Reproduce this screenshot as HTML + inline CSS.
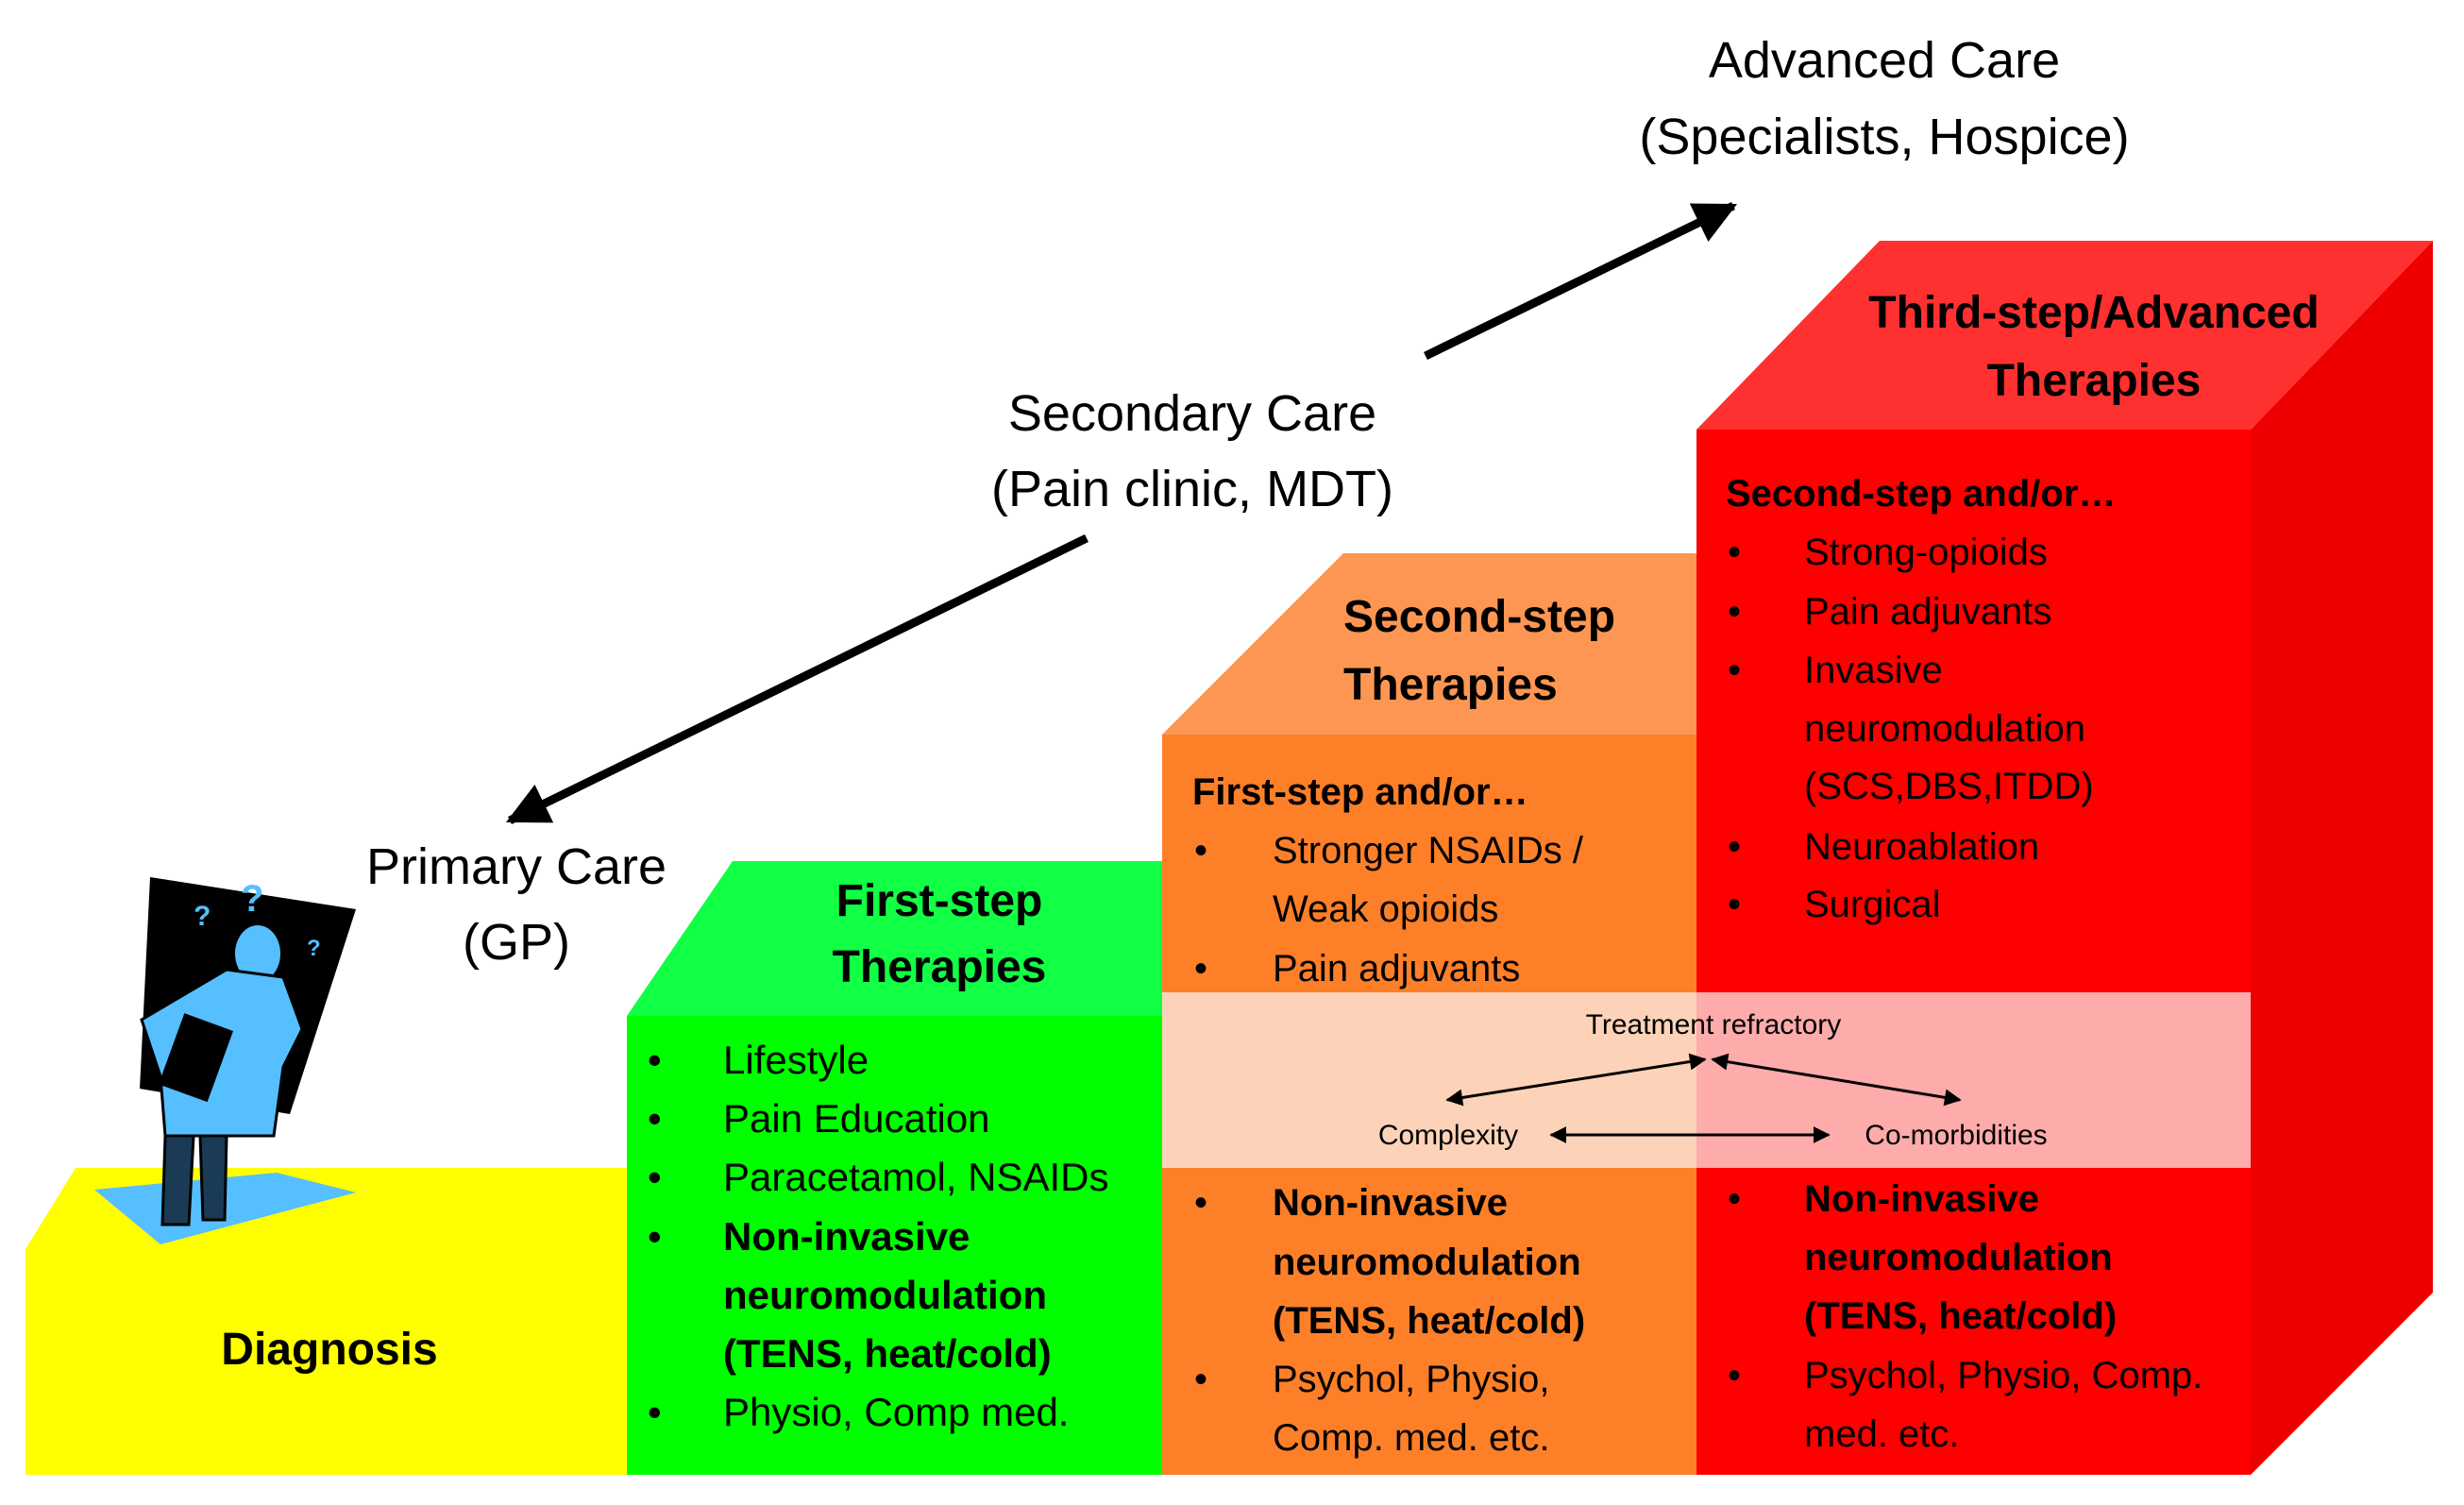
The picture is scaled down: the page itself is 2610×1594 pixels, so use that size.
<!DOCTYPE html>
<html><head><meta charset="utf-8"><style>
html,body{margin:0;padding:0;background:#fff}
svg{display:block}
text{font-family:"Liberation Sans",sans-serif;fill:#000}
.b{font-weight:bold}
</style></head><body>
<svg width="2610" height="1594" viewBox="0 0 2610 1594" xmlns="http://www.w3.org/2000/svg">
<defs>
<marker id="ah" viewBox="0 0 10 10" refX="9" refY="5" markerWidth="5" markerHeight="5" orient="auto-start-reverse"><path d="M0,0 L10,5 L0,10 z" fill="#000"/></marker>
<marker id="sh" viewBox="0 0 10 10" refX="9" refY="5" markerWidth="6" markerHeight="6" orient="auto-start-reverse"><path d="M0,0 L10,5 L0,10 z" fill="#000"/></marker>
</defs>
<!-- yellow -->
<polygon points="80,1237 666,1237 666,1562 27,1562 27,1323" fill="#ffff00"/>
<!-- green -->
<polygon points="664,1076 776,912 1231,912 1231,1076" fill="#11ff44"/>
<rect x="664" y="1076" width="567" height="486" fill="#00ff00"/>
<!-- orange -->
<polygon points="1231,778 1423,586 1797,586 1797,778" fill="#fd9652"/>
<rect x="1231" y="778" width="566" height="784" fill="#fd7f28"/>
<!-- red -->
<polygon points="1797,455 1991,255 2577,255 2384,455" fill="#ff3030"/>
<rect x="1797" y="455" width="587" height="1107" fill="#ff0000"/>
<polygon points="2384,455 2577,255 2577,1369 2384,1562" fill="#ee0000"/>
<!-- band -->
<rect x="1231" y="1051" width="566" height="186" fill="#fcd3b8"/>
<rect x="1797" y="1051" width="587" height="186" fill="#fdabab"/>

<!-- doctor -->
<polygon points="159,929 377,963 307,1180 148,1153" fill="#000"/>
<polygon points="100,1260 293,1242 377,1263 170,1318" fill="#55bfff"/>
<ellipse cx="273" cy="1010" rx="24" ry="30" fill="#55bfff"/>
<polygon points="150,1080 240,1027 300,1035 320,1090 300,1130 290,1203 175,1203 170,1140" fill="#55bfff" stroke="#000" stroke-width="3"/>
<rect x="180" y="1080" width="55" height="80" fill="#000" transform="rotate(20 207 1120)"/>
<polygon points="175,1203 205,1203 200,1297 172,1297" fill="#1a3a55" stroke="#000" stroke-width="3"/>
<polygon points="212,1203 240,1203 238,1292 215,1292" fill="#1a3a55" stroke="#000" stroke-width="3"/>
<text x="205" y="980" font-size="30" style="fill:#55bfff" class="b">?</text>
<text x="255" y="965" font-size="40" style="fill:#55bfff" class="b">?</text>
<text x="325" y="1012" font-size="24" style="fill:#55bfff" class="b">?</text>

<!-- big arrows -->
<line x1="1151" y1="570" x2="540" y2="869" stroke="#000" stroke-width="9" marker-end="url(#ah)"/>
<line x1="1510" y1="377" x2="1836" y2="218" stroke="#000" stroke-width="9" marker-end="url(#ah)"/>

<!-- care labels -->
<g font-size="54" text-anchor="middle">
<text x="1996" y="82">Advanced Care</text>
<text x="1996" y="163">(Specialists, Hospice)</text>
<text x="1263" y="456">Secondary Care</text>
<text x="1263" y="536">(Pain clinic, MDT)</text>
<text x="547" y="936">Primary Care</text>
<text x="547" y="1016">(GP)</text>
</g>

<!-- headers -->
<g class="b" font-size="48" text-anchor="middle">
<text x="995" y="970">First-step</text>
<text x="995" y="1040">Therapies</text>
<text x="2218" y="347">Third-step/Advanced</text>
<text x="2218" y="419">Therapies</text>
<text x="349" y="1445">Diagnosis</text>
</g>
<g class="b" font-size="48">
<text x="1423" y="669">Second-step</text>
<text x="1423" y="741">Therapies</text>
</g>

<!-- green list -->
<g font-size="42">
<text x="686" y="1137">•</text><text x="766" y="1137">Lifestyle</text>
<text x="686" y="1199">•</text><text x="766" y="1199">Pain Education</text>
<text x="686" y="1261">•</text><text x="766" y="1261">Paracetamol, NSAIDs</text>
<text x="686" y="1324">•</text><text x="766" y="1324" class="b">Non-invasive</text>
<text x="766" y="1386" class="b">neuromodulation</text>
<text x="766" y="1448" class="b">(TENS, heat/cold)</text>
<text x="686" y="1510">•</text><text x="766" y="1510">Physio, Comp med.</text>
</g>

<!-- orange list -->
<g font-size="40">
<text x="1263" y="852" class="b">First-step and/or…</text>
<text x="1265" y="914">•</text><text x="1348" y="914">Stronger NSAIDs /</text>
<text x="1348" y="976">Weak opioids</text>
<text x="1265" y="1039">•</text><text x="1348" y="1039">Pain adjuvants</text>
<text x="1265" y="1287">•</text><text x="1348" y="1287" class="b">Non-invasive</text>
<text x="1348" y="1350" class="b">neuromodulation</text>
<text x="1348" y="1412" class="b">(TENS, heat/cold)</text>
<text x="1265" y="1474">•</text><text x="1348" y="1474">Psychol, Physio,</text>
<text x="1348" y="1536">Comp. med. etc.</text>
</g>

<!-- red list -->
<g font-size="40">
<text x="1828" y="536" class="b">Second-step and/or…</text>
<text x="1830" y="598">•</text><text x="1911" y="598">Strong-opioids</text>
<text x="1830" y="661">•</text><text x="1911" y="661">Pain adjuvants</text>
<text x="1830" y="723">•</text><text x="1911" y="723">Invasive</text>
<text x="1911" y="785">neuromodulation</text>
<text x="1911" y="846">(SCS,DBS,ITDD)</text>
<text x="1830" y="910">•</text><text x="1911" y="910">Neuroablation</text>
<text x="1830" y="971">•</text><text x="1911" y="971">Surgical</text>
<text x="1830" y="1283">•</text><text x="1911" y="1283" class="b">Non-invasive</text>
<text x="1911" y="1345" class="b">neuromodulation</text>
<text x="1911" y="1407" class="b">(TENS, heat/cold)</text>
<text x="1830" y="1470">•</text><text x="1911" y="1470">Psychol, Physio, Comp.</text>
<text x="1911" y="1532">med. etc.</text>
</g>

<!-- band -->
<g font-size="30" text-anchor="middle">
<text x="1815" y="1095">Treatment refractory</text>
<text x="1534" y="1212">Complexity</text>
<text x="2072" y="1212">Co-morbidities</text>
</g>
<g stroke="#000" stroke-width="3">
<line x1="1806" y1="1122" x2="1533" y2="1165" marker-start="url(#sh)" marker-end="url(#sh)"/>
<line x1="1814" y1="1122" x2="2076" y2="1165" marker-start="url(#sh)" marker-end="url(#sh)"/>
<line x1="1643" y1="1202" x2="1937" y2="1202" marker-start="url(#sh)" marker-end="url(#sh)"/>
</g>
</svg>
</body></html>
